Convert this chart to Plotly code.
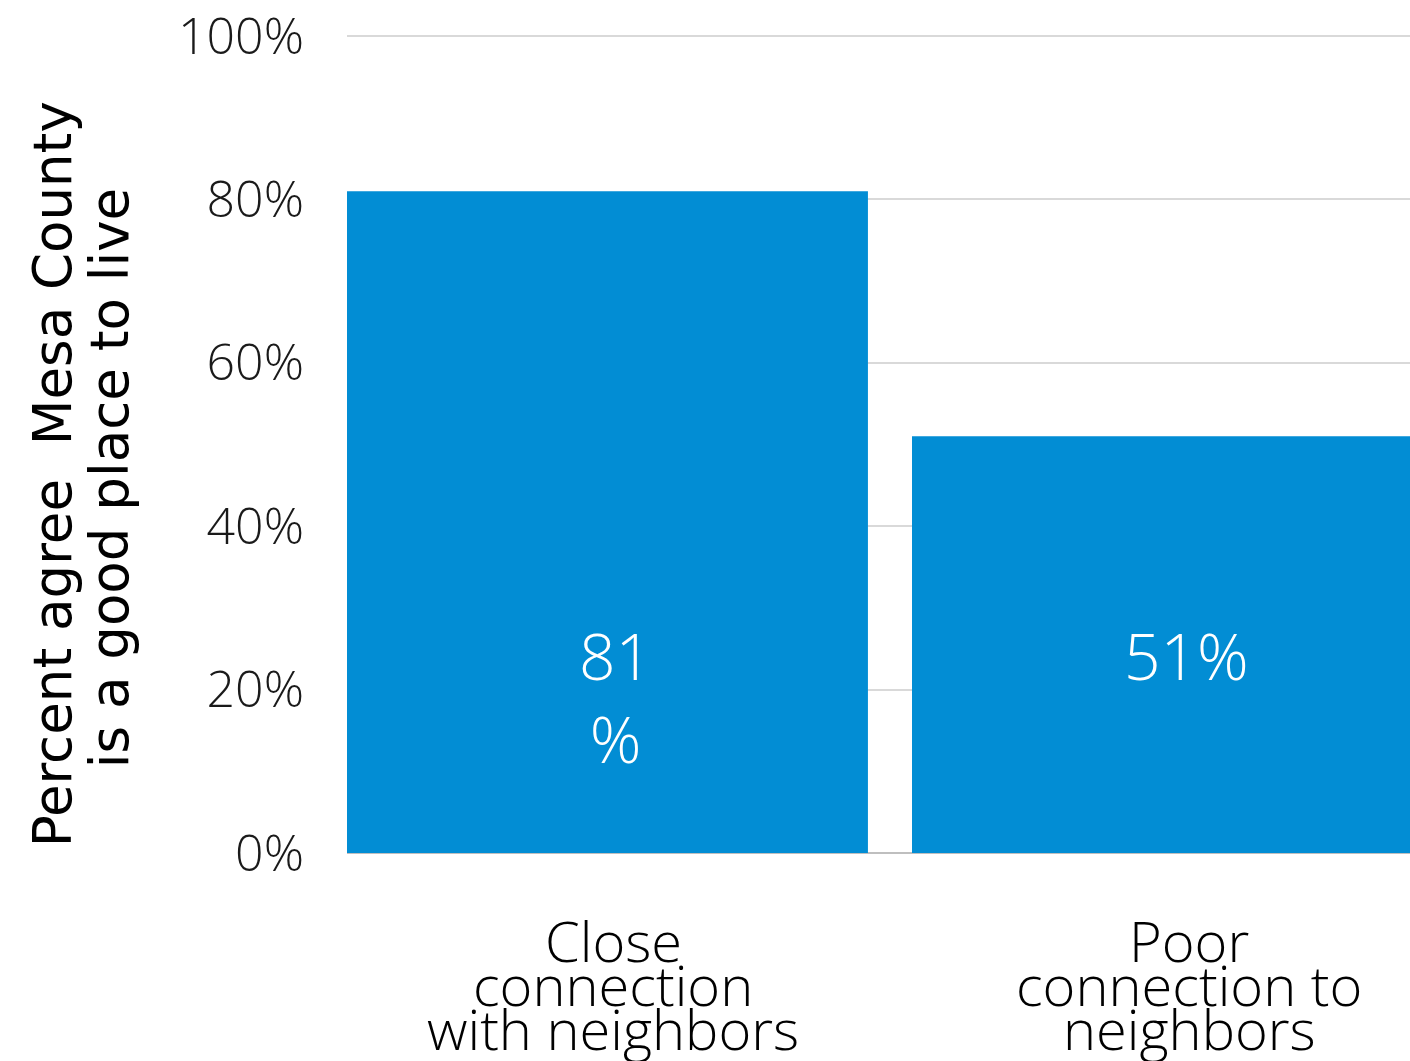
"""Percent agreeing Mesa County is a good place to live, by neighbor connection"""

import plotly.graph_objects as go

# Data
categories = ["Close connection with neighbors", "Poor connection to neighbors"]
category_lines = [["Close", "connection", "with neighbors"],
                  ["Poor", "connection to", "neighbors"]]
percent_agree = [81, 51]
value_labels = ["81<br>%", "51%"]
y_ticks = [0, 20, 40, 60, 80, 100]
y_tick_text = ["0%", "20%", "40%", "60%", "80%", "100%"]
y_title_lines = ["Percent agree\u00a0 Mesa County", "is a good place to live"]

BAR_COLOR = "#028DD4"
FONT = "Open Sans"


def create_figure():
    fig = go.Figure(go.Bar(
        x=categories,
        y=percent_agree,
        marker=dict(color=BAR_COLOR, line_width=0),
        hoverinfo="skip",
    ))

    # value labels inside the bars (Excel puts them low in the bar)
    for cat, label, xs in zip(categories, value_labels, [8, 14]):
        fig.add_annotation(
            x=cat, y=29.7, xref="x", yref="y",
            text=label, showarrow=False, yanchor="top", xshift=xs,
            font=dict(family=FONT, size=64, color="white", weight=300),
        )

    # category labels, one annotation per line to get the tight spacing
    shifts = [6, 17]
    for cat, lines, xs in zip(categories, category_lines, shifts):
        for i, line in enumerate(lines):
            fig.add_annotation(
                x=cat, y=0, xref="x", yref="paper",
                text=line, showarrow=False, yanchor="top",
                yshift=-47 - 44 * i, xshift=xs,
                font=dict(family=FONT, size=56, color="black", weight=300),
            )

    # rotated y-axis title, one annotation per line
    for line, ys, xs in zip(y_title_lines, [0.4614, 0.4565], [-295, -238]):
        fig.add_annotation(
            x=0, y=ys, xref="paper", yref="paper",
            text=line, showarrow=False, textangle=-90,
            xanchor="center", yanchor="middle", xshift=xs,
            font=dict(family="DejaVu Sans", size=53, color="black"),
        )

    fig.update_layout(
        width=1410,
        height=1061,
        margin=dict(l=347, r=0, t=32, b=208),
        plot_bgcolor="white",
        paper_bgcolor="white",
        bargap=0.078,
        showlegend=False,
        xaxis=dict(
            range=[-0.461, 1.4204],
            showticklabels=False,
            showgrid=False,
            zeroline=False,
            showline=False,
        ),
        yaxis=dict(
            range=[0, 100.5],
            tickvals=y_ticks,
            ticktext=y_tick_text,
            ticklabelstandoff=42,
            tickfont=dict(family=FONT, size=50, color="#1a1a1a", weight=300),
            showgrid=True,
            gridcolor="#d9d9d9",
            gridwidth=2,
            zeroline=True,
            zerolinecolor="#bfbfbf",
            zerolinewidth=2,
        ),
    )
    return fig


def main():
    fig = create_figure()
    # drop the browser's default body margin so the figure fills the window
    fig.write_html("out.html", config={"displayModeBar": False},
                   post_script="document.body.style.margin = '0';")


if __name__ == "__main__":
    main()
